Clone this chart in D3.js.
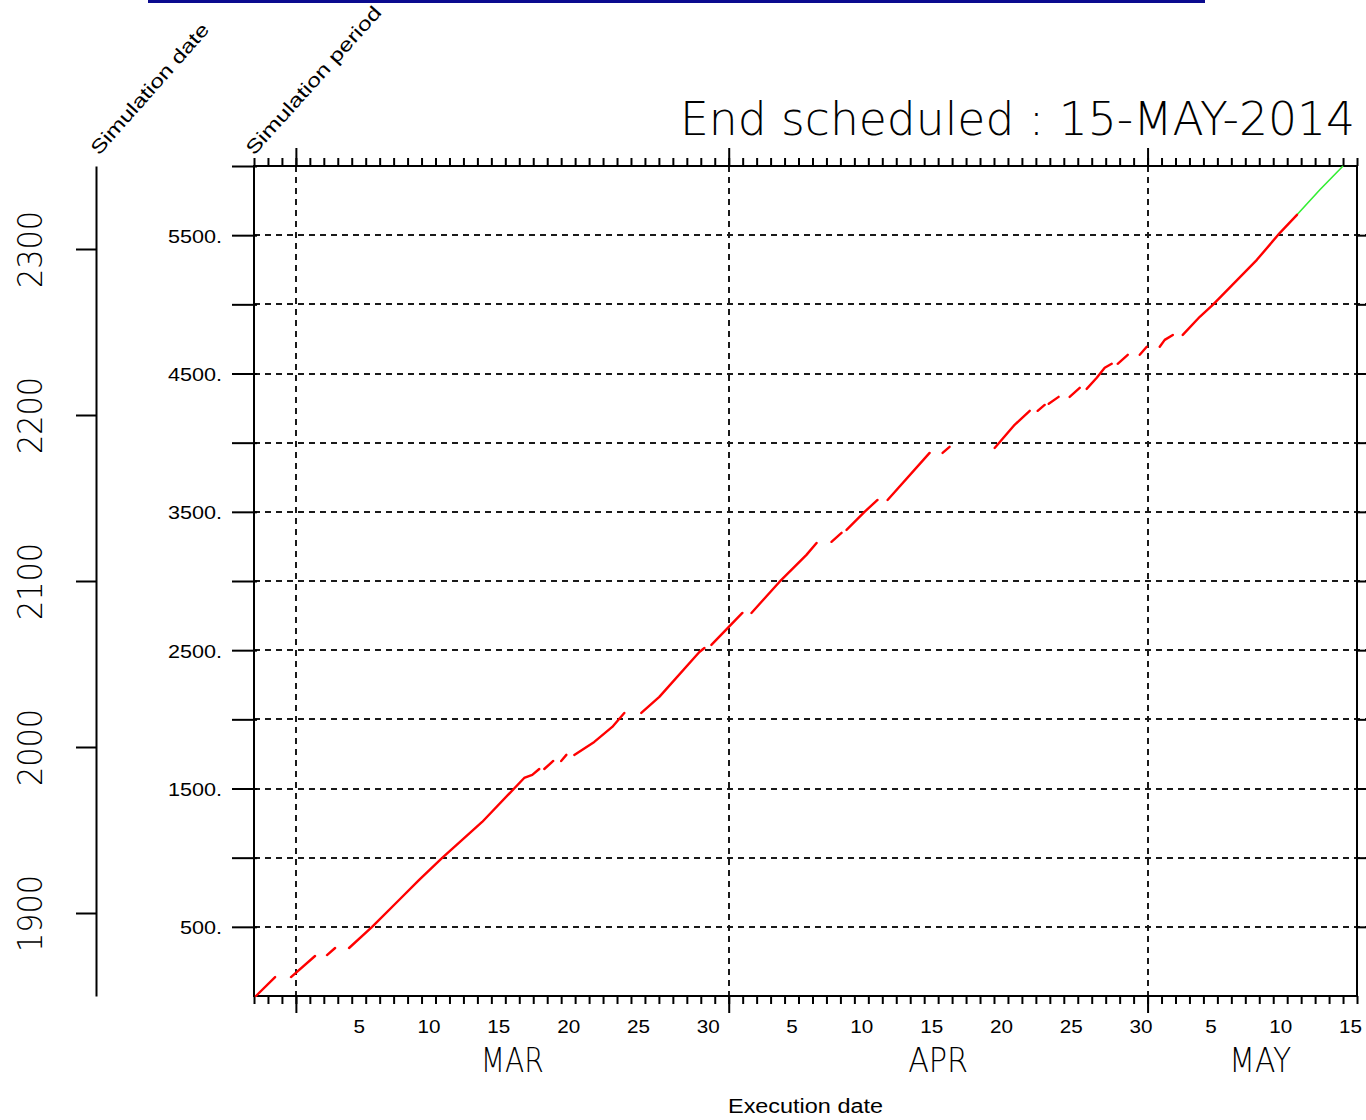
<!DOCTYPE html>
<html>
<head>
<meta charset="utf-8">
<script src="https://cdn.jsdelivr.net/npm/d3@7"></script>
<style>
  html, body { margin: 0; padding: 0; background: #fff; }
  svg { display: block; }
  text { font-family: "Liberation Sans", Arial, sans-serif; font-weight: normal; fill: #000; }
  text.thin { font-family: "DejaVu Sans ExtraLight", "DejaVu Sans", "Liberation Sans", sans-serif; font-weight: 200; }
</style>
</head>
<body>
<svg id="chart" width="1366" height="1120"></svg>
<script>
// ---------------- DATA ----------------
const titleText = "End scheduled : 15-MAY-2014";
const xAxisTitle = "Execution date";
const leftTitle1 = "Simulation date";
const leftTitle2 = "Simulation period";
const execStart = "2014-02-26T00:00";
const execEnd = "2014-05-16T00:00";
const monthLabels = ["MAR", "APR", "MAY"];
const monthStarts = ["2014-03-01T00:00", "2014-04-01T00:00", "2014-05-01T00:00"];
const dayLabelDays = [
  "2014-03-05", "2014-03-10", "2014-03-15", "2014-03-20", "2014-03-25", "2014-03-30",
  "2014-04-05", "2014-04-10", "2014-04-15", "2014-04-20", "2014-04-25", "2014-04-30",
  "2014-05-05", "2014-05-10", "2014-05-15"
];
const periodTicks = [500, 1000, 1500, 2000, 2500, 3000, 3500, 4000, 4500, 5000, 5500, 6000];
const periodLabelTicks = [500, 1500, 2500, 3500, 4500, 5500];
const yearTicks = [1900, 2000, 2100, 2200, 2300];
const simStartYear = 1850;

// executed runs (null = no record, line break)
const runDates = [
  "2014-02-26T03:20", "2014-02-27T12:15", null,
  "2014-02-28T15:35", "2014-03-02T08:55", null,
  "2014-03-03T05:30", "2014-03-03T19:25", null,
  "2014-03-04T19:25", "2014-03-06T11:00", "2014-03-08T09:20", "2014-03-09T19:55", "2014-03-11T11:30",
  "2014-03-14T08:10", "2014-03-17T08:25", "2014-03-17T22:20", "2014-03-18T10:20", null,
  "2014-03-18T19:00", "2014-03-19T10:20", null,
  "2014-03-20T00:00", "2014-03-20T08:55", null,
  "2014-03-20T22:35", "2014-03-22T08:55", "2014-03-23T15:50", "2014-03-24T12:30", null,
  "2014-03-25T17:45", "2014-03-27T00:45", "2014-03-29T21:35", "2014-03-30T06:15", null,
  "2014-03-30T18:15", "2014-04-01T23:30", null,
  "2014-04-02T15:05", "2014-04-04T15:05", "2014-04-06T13:40", "2014-04-07T07:00", null,
  "2014-04-08T08:40", "2014-04-09T01:55", null,
  "2014-04-09T10:35", "2014-04-10T17:30", "2014-04-11T15:50", null,
  "2014-04-12T09:05", "2014-04-15T09:20", null,
  "2014-04-16T07:40", "2014-04-16T19:40", null,
  "2014-04-20T01:10", "2014-04-21T11:30", "2014-04-22T13:25", null,
  "2014-04-23T03:05", "2014-04-23T15:05", null,
  "2014-04-23T22:05", "2014-04-24T15:05", null,
  "2014-04-25T10:05", "2014-04-26T03:20", null,
  "2014-04-26T15:20", "2014-04-27T08:40", "2014-04-27T22:20", "2014-04-28T10:20", null,
  "2014-04-28T20:40", "2014-04-29T13:55", null,
  "2014-04-30T10:35", "2014-04-30T22:35", null,
  "2014-05-01T20:55", "2014-05-02T05:30", "2014-05-02T19:25", null,
  "2014-05-03T12:30", "2014-05-04T17:45", "2014-05-05T16:05", "2014-05-08T19:55",
  "2014-05-10T11:30", "2014-05-11T16:50"
];
const runMonths = [
  0, 137, null,
  137, 289, null,
  296, 347, null,
  347, 499, 694, 839, 998,
  1258, 1576, 1598, 1641, null,
  1641, 1699, null,
  1699, 1743, null,
  1743, 1837, 1945, 2046, null,
  2046, 2162, 2487, 2516, null,
  2538, 2769, null,
  2769, 2993, 3189, 3275, null,
  3283, 3348, null,
  3369, 3500, 3586, null,
  3586, 3926, null,
  3926, 3970, null,
  3962, 4129, 4230, null,
  4230, 4273, null,
  4281, 4331, null,
  4331, 4396, null,
  4389, 4469, 4541, 4570, null,
  4570, 4635, null,
  4635, 4693, null,
  4693, 4743, 4779, null,
  4779, 4910, 4996, 5322,
  5517, 5647
];
// scheduled remainder
const forecastDates = ["2014-05-11T16:50", "2014-05-13T08:10", "2014-05-15T00:00"];
const forecastMonths = [5647, 5828, 6000];

// ---------------- CHART ----------------
const parse = d3.utcParse("%Y-%m-%dT%H:%M");
const parseDay = d3.utcParse("%Y-%m-%d");
const svg = d3.select("#chart");

const L = 254, R = 1357, T = 166, B = 996;
const x = d3.scaleUtc().domain([parse(execStart), parse(execEnd)]).range([L, R]);
const y = d3.scaleLinear().domain([0, 6000]).range([B, T]);
const yYear = d3.scaleLinear().domain([simStartYear, simStartYear + 6000 / 12]).range([B, T]);

const gridColor = "#1a1a1a";
const dash = "6,5";
const px = v => Math.round(v);

// top blue bar
svg.append("rect").attr("x", 148).attr("y", 0).attr("width", 1057).attr("height", 3).attr("fill", "#0b0b8f");

// horizontal grid
svg.append("g").attr("shape-rendering", "crispEdges").selectAll("line")
  .data(periodTicks.filter(v => v < 6000))
  .join("line")
  .attr("x1", L).attr("x2", 1366)
  .attr("y1", d => px(y(d))).attr("y2", d => px(y(d)))
  .attr("stroke", gridColor).attr("stroke-width", 2).attr("stroke-dasharray", dash);

// vertical grid at month starts
svg.append("g").attr("shape-rendering", "crispEdges").selectAll("line")
  .data(monthStarts.map(parse))
  .join("line")
  .attr("x1", d => px(x(d))).attr("x2", d => px(x(d)))
  .attr("y1", T).attr("y2", B)
  .attr("stroke", gridColor).attr("stroke-width", 2).attr("stroke-dasharray", dash);

function styleAxis(g) {
  g.selectAll("path, line").attr("stroke", "#000").attr("stroke-width", 2);
  g.attr("font-family", null).attr("font-size", null);
}

// bottom day ticks
const days = d3.utcDay.range(parse(execStart), d3.utcDay.offset(parse(execEnd), 1));
svg.append("g").attr("transform", `translate(0,${B})`)
  .call(d3.axisBottom(x).tickValues(days).tickSize(8).tickSizeOuter(0).tickFormat(""))
  .call(styleAxis).call(g => g.select(".domain").remove());
svg.append("g").attr("transform", `translate(0,${B})`)
  .call(d3.axisBottom(x).tickValues(monthStarts.map(parse)).tickSize(17).tickSizeOuter(0).tickFormat(""))
  .call(styleAxis).call(g => g.select(".domain").remove());
// top day ticks
svg.append("g").attr("transform", `translate(0,${T})`)
  .call(d3.axisTop(x).tickValues(days).tickSize(8).tickSizeOuter(0).tickFormat(""))
  .call(styleAxis).call(g => g.select(".domain").remove());
svg.append("g").attr("transform", `translate(0,${T})`)
  .call(d3.axisTop(x).tickValues(monthStarts.map(parse)).tickSize(18).tickSizeOuter(0).tickFormat(""))
  .call(styleAxis).call(g => g.select(".domain").remove());

// day labels (centered in the day)
const dayCenters = dayLabelDays.map(s => d3.utcHour.offset(parseDay(s), 12));
const dayAx = svg.append("g").attr("transform", `translate(0,${B})`)
  .call(d3.axisBottom(x).tickValues(dayCenters).tickSize(0).tickPadding(24).tickFormat(d3.utcFormat("%-d")))
  .call(styleAxis).call(g => g.select(".domain").remove());
dayAx.selectAll("text").attr("font-size", 18)
  .attr("textLength", d => d3.utcFormat("%-d")(d).length * 11.5).attr("lengthAdjust", "spacingAndGlyphs");

// month labels
const monthEnds = [monthStarts[1], monthStarts[2], execEnd].map(parse);
svg.append("g").selectAll("text")
  .data(monthLabels)
  .join("text")
  .attr("class", "thin")
  .attr("x", (d, i) => (x(parse(monthStarts[i])) + x(monthEnds[i])) / 2 + (i === 2 ? 8 : 0))
  .attr("y", 1072)
  .attr("text-anchor", "middle")
  .attr("font-size", 33)
  .attr("textLength", (d, i) => [63, 60, 62][i])
  .attr("lengthAdjust", "spacingAndGlyphs")
  .text(d => d);

// x axis title
svg.append("text").attr("x", (L + R) / 2).attr("y", 1113).attr("text-anchor", "middle")
  .attr("font-size", 20).attr("textLength", 155).attr("lengthAdjust", "spacingAndGlyphs").text(xAxisTitle);

// left period axis
const yAx = svg.append("g").attr("transform", `translate(${L + 3},0)`)
  .call(d3.axisLeft(y).tickValues(periodTicks).tickSize(25).tickPadding(10)
    .tickFormat(v => periodLabelTicks.includes(v) ? v + "." : ""))
  .call(styleAxis).call(g => g.select(".domain").remove());
yAx.selectAll("text").attr("font-size", 19).attr("dy", "0.36em")
  .attr("textLength", d => periodLabelTicks.includes(d) ? (String(d).length * 12 + 6) : 0)
  .attr("lengthAdjust", "spacingAndGlyphs");

// right axis ticks
svg.append("g").attr("transform", `translate(${R},0)`)
  .call(d3.axisRight(y).tickValues(periodTicks.filter(v => v < 6000)).tickSize(9).tickFormat(""))
  .call(styleAxis).call(g => g.select(".domain").remove());

// frame
svg.append("rect").attr("x", L).attr("y", T).attr("width", R - L).attr("height", B - T)
  .attr("fill", "none").attr("stroke", "#000").attr("stroke-width", 2);

// simulation date axis
const yrAx = svg.append("g").attr("transform", "translate(96,0)")
  .call(d3.axisLeft(yYear).tickValues(yearTicks).tickSize(20).tickSizeOuter(0).tickFormat(d3.format("d")))
  .call(styleAxis);
yrAx.selectAll("text")
  .attr("class", "thin")
  .attr("x", null).attr("dy", null)
  .attr("text-anchor", "middle")
  .attr("transform", "translate(-54,0) rotate(-90)")
  .attr("font-size", 34).attr("textLength", 77).attr("lengthAdjust", "spacingAndGlyphs");

// rotated axis titles
svg.append("text").attr("transform", "translate(99,156) rotate(-48.5)")
  .attr("font-size", 19).attr("textLength", 168).attr("lengthAdjust", "spacingAndGlyphs").text(leftTitle1);
svg.append("text").attr("transform", "translate(254,156) rotate(-48)")
  .attr("font-size", 19).attr("textLength", 192).attr("lengthAdjust", "spacingAndGlyphs").text(leftTitle2);

// title
svg.append("text").attr("class", "thin").attr("x", 1355).attr("y", 135).attr("text-anchor", "end")
  .attr("font-size", 46).attr("textLength", 675).attr("lengthAdjust", "spacingAndGlyphs").text(titleText);

// series
const runData = runDates.map((d, i) => ({ date: d ? parse(d) : null, v: runMonths[i] }));
const fcData = forecastDates.map((d, i) => ({ date: parse(d), v: forecastMonths[i] }));
const line = d3.line().defined(d => d.date !== null && d.v !== null)
  .x(d => x(d.date)).y(d => y(d.v));

svg.append("path").datum(fcData).attr("d", line)
  .attr("fill", "none").attr("stroke", "#33ee33").attr("stroke-width", 1.6);
svg.append("path").datum(runData).attr("d", line)
  .attr("fill", "none").attr("stroke", "#ff0000").attr("stroke-width", 2.4)
  .attr("stroke-linejoin", "round").attr("stroke-linecap", "round");
</script>
</body>
</html>
